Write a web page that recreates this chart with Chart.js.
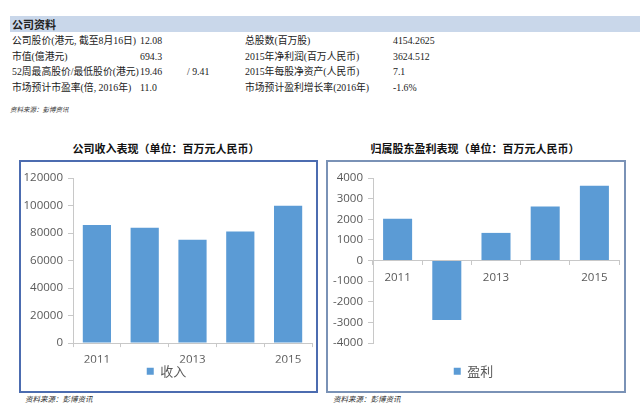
<!DOCTYPE html>
<html>
<head>
<meta charset="utf-8">
<script src="https://cdn.jsdelivr.net/npm/chart.js@4"></script>
<style>
body { margin: 0; background: #fff; width: 640px; height: 407px; position: relative; overflow: hidden;
       font-family: "Liberation Serif", "Noto Sans CJK SC", serif; color: #222; }
.abs { position: absolute; white-space: nowrap; }
.cell { font-size: 9.8px; line-height: 14px; }
.src { font-style: italic; color: #333; font-family: "Noto Sans CJK SC"; }
.title { font-family: "Noto Sans CJK SC"; font-weight: bold; font-size: 11px; text-align: center; color: #111; }
.box { position: absolute; box-sizing: border-box; border: 2px solid #5f7db5; }
canvas { position: absolute; }
</style>
</head>
<body>
<div class="abs" style="left:10px;top:16px;width:630px;height:16px;background:#c9d7ea;"></div>
<div class="abs" style="left:12px;top:16px;font-family:'Noto Sans CJK SC';font-weight:bold;font-size:11px;line-height:16px;">公司资料</div>
<div id="info"></div>
<div class="abs src" style="left:10px;top:104px;font-size:6.5px;">资料来源：彭博资讯</div>

<div class="abs title" style="left:20px;top:140px;width:292px;">公司收入表现（单位：百万元人民币）</div>
<div class="abs title" style="left:327px;top:140px;width:296px;">归属股东盈利表现（单位：百万元人民币）</div>
<div class="box" style="left:19px;top:160px;width:299px;height:233px;border-color:#4c6cb0;"></div>
<div class="box" style="left:326px;top:160px;width:300px;height:233px;border-color:#7a92b6;"></div>
<canvas id="revChart" width="296" height="230" style="left:21px;top:162px;"></canvas>
<canvas id="profChart" width="294" height="228" style="left:328px;top:162px;"></canvas>
<div class="abs src" style="left:25px;top:393px;font-size:7.5px;">资料来源：彭博资讯</div>
<div class="abs src" style="left:333px;top:393px;font-size:7.5px;">资料来源：彭博资讯</div>

<script>
// chart data
const years = ['2011', '2012', '2013', '2014', '2015'];
const revenue = [85900, 83900, 75100, 81200, 99800];
const profit = [2030, -2880, 1340, 2620, 3620];
const revenueAxis = [0, 120000, 20000];   // min, max, step
const profitAxis = [-4000, 4000, 1000];

// company info table
const infoLabelsLeft = ['公司股价(港元, 截至8月16日)', '市值(億港元)', '52周最高股价/最低股价(港元)', '市场预计市盈率(倍, 2016年)'];
const infoValuesLeft = ['12.08', '694.3', '19.46', '11.0'];
const infoLabelsRight = ['总股数(百万股)', '2015年净利润(百万人民币)', '2015年每股净资产(人民币)', '市场预计盈利增长率(2016年)'];
const infoValuesRight = ['4154.2625', '3624.512', '7.1', '-1.6%'];

const rowTops = [34, 50, 65, 81];
const info = document.getElementById('info');
function addCell(text, x, y) {
    const d = document.createElement('div');
    d.className = 'abs cell';
    d.style.left = x + 'px';
    d.style.top = y + 'px';
    d.textContent = text;
    info.appendChild(d);
}
rowTops.forEach((y, i) => {
    addCell(infoLabelsLeft[i], 12, y);
    addCell(infoValuesLeft[i], 140, y);
    addCell(infoLabelsRight[i], 245, y);
    addCell(infoValuesRight[i], 393, y);
});
addCell('/ 9.41', 187, rowTops[2]);

const BLUE = '#5b9bd5';
const AXIS = '#c8c8c8';
const TICK = '#595959';
const tickFont = { family: 'Open Sans', size: 11.5 };

function barOptions(axisRange, yWidth, rightPad, bottomPad, zeroAxis) {
    const xScale = {
        grid: { display: true, drawOnChartArea: false, drawTicks: true, tickLength: 4, color: AXIS },
        border: { color: AXIS },
        ticks: {
            autoSkip: false, maxRotation: 0, padding: 6, color: TICK, font: tickFont,
            callback: (v, i) => (i % 2 === 0 ? years[i] : '')
        }
    };
    const scales = {
        x: xScale,
        y: {
            min: axisRange[0], max: axisRange[1],
            ticks: { stepSize: axisRange[2], padding: 5, color: TICK, font: tickFont,
                     callback: v => String(v) },
            grid: { drawOnChartArea: false, tickLength: 5, color: AXIS },
            border: { color: AXIS },
            afterFit: s => { s.width = yWidth; }
        }
    };
    if (zeroAxis) {
        xScale.position = { y: 0 };
        // empty axis just to keep room above the legend
        scales.pad = {
            type: 'category', axis: 'x', position: 'bottom', display: true,
            grid: { display: false }, border: { display: false }, ticks: { display: false },
            afterFit: s => { s.height = 19.6; }
        };
    } else {
        xScale.afterFit = s => { s.height = 19.6; };
    }
    return {
        responsive: false,
        animation: false,
        layout: { padding: { left: 0, right: rightPad, top: 16, bottom: bottomPad } },
        plugins: {
            legend: {
                position: 'bottom',
                labels: { boxWidth: 7, boxHeight: 7, padding: 2, color: TICK,
                          font: { family: 'Noto Sans CJK SC', size: 13 } }
            },
            tooltip: { enabled: false }
        },
        scales: scales
    };
}

new Chart(document.getElementById('revChart'), {
    type: 'bar',
    data: {
        labels: years,
        datasets: [{ label: '收入', data: revenue, backgroundColor: BLUE,
                     categoryPercentage: 1, barPercentage: 0.59 }]
    },
    options: barOptions(revenueAxis, 52, 5, 4.3, false)
});

new Chart(document.getElementById('profChart'), {
    type: 'bar',
    data: {
        labels: years,
        datasets: [{ label: '盈利', data: profit, backgroundColor: BLUE,
                     categoryPercentage: 1, barPercentage: 0.59 }]
    },
    options: barOptions(profitAxis, 45, 3, 2.3, true)
});
</script>
</body>
</html>
